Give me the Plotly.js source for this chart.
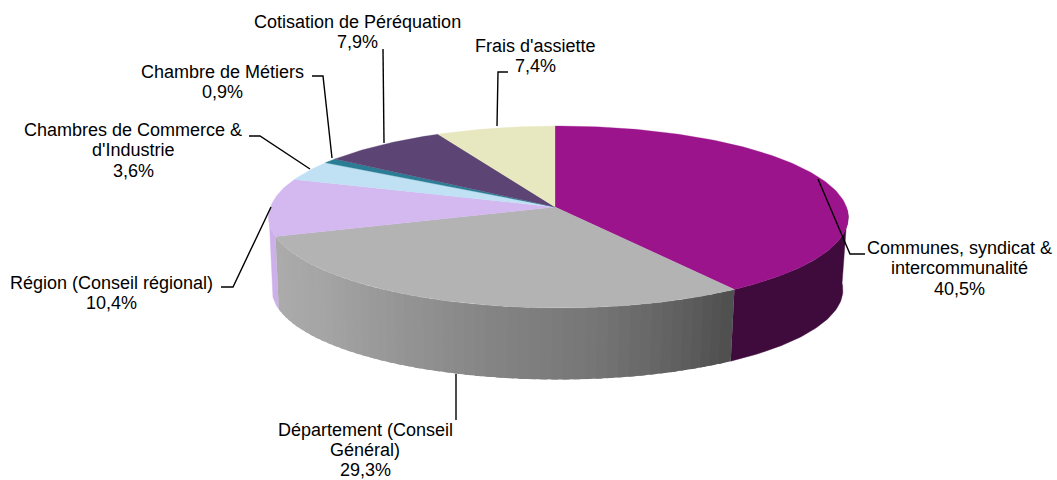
<!DOCTYPE html>
<html>
<head>
<meta charset="utf-8">
<script src="https://cdn.plot.ly/plotly-3.0.1.min.js"></script>
<style>html,body{margin:0;padding:0;background:#fff}#c{width:1057px;height:480px}</style>
</head>
<body>
<div id="c"></div>
<script>
// ---- data ----
const categories = [["Communes, syndicat &","intercommunalité"],["Département (Conseil","Général)"],["Région (Conseil régional)"],["Chambres de Commerce &","d'Industrie"],["Chambre de Métiers"],["Cotisation de Péréquation"],["Frais d'assiette"]];
const shares = [40.5,29.3,10.4,3.6,0.9,7.9,7.4];
const shareLabels = ["40,5%","29,3%","10,4%","3,6%","0,9%","7,9%","7,4%"];

// ---- styles ----
const topColors  = ["#9c148c","#b3b3b3","#d4b8f0","#c0e0f4","#2a7d94","#5c4474","#e8e8c0"];
const wallColors = ["#3f0a3c","#808080","#cdb0ea","#c0e0f4","#2a7d94","#5c4474","#e8e8c0"];
// grey gradient of the side wall, [pixel x, grey level]
const wallGrey = [[272,172],[330,164],[400,150],[500,132],[600,118],[680,98],[738,78]];

// ---- label layout ----
const labelX = [959,365,111,133,222,357,535];
const labelLineY = [[248,268,289],[430,450,470],[283,303],[130,150,171],[72,92],[22,42],[46,66]];
const leaders = [
  [[865,254],[850,254],[818,179]],
  [[456,374],[456,420]],
  [[221,287],[233,287],[271,207]],
  [[249,136],[260,136],[310,169]],
  [[312,76],[323,76],[332,158]],
  [[383,49],[384,143]],
  [[508,72],[498,72],[497,126]]
];

// ---- projection of the tilted disc ----
const cx=555, cy=207, A=288, B=89.9, k=0.11, m=-0.012, wallH=73, wallS=0.985, wallDx=-1;
function topPt(deg){
  const t=deg*Math.PI/180, X=Math.sin(t), Y=Math.cos(t), d=1+k*Y+m*X;
  return [cx+A*X/d, cy-B*Y/d];
}
function botPt(deg){
  const p=topPt(deg);
  return [cx+wallDx+(p[0]-cx)*wallS, cy+wallH+(p[1]-cy)*wallS];
}
function greyAt(x){
  for(let i=1;i<wallGrey.length;i++){
    if(x<=wallGrey[i][0]){
      const a=wallGrey[i-1],b=wallGrey[i],f=Math.max(0,(x-a[0])/(b[0]-a[0]));
      const g=Math.round(a[1]+(b[1]-a[1])*f);
      return `rgb(${g},${g},${g})`;
    }
  }
  const g=wallGrey[wallGrey.length-1][1];
  return `rgb(${g},${g},${g})`;
}
function poly(pts,color,w){
  return {type:'scatter',mode:'lines',x:pts.map(p=>p[0]),y:pts.map(p=>p[1]),fill:'toself',fillcolor:color,
          line:{color:color,width:w},hoverinfo:'skip',showlegend:false};
}

// slice angle bounds from the shares
const total=shares.reduce((a,b)=>a+b,0);
const bounds=[0];
shares.forEach(v=>bounds.push(bounds[bounds.length-1]+v/total*360));

const traces=[];
// side wall: only the near half of the rim shows
const wallFrom=92, wallTo=266, step=2;
function wallPts(a,b){
  const pts=[];
  for(let t=a;t<b;t+=1) pts.push(topPt(t));
  pts.push(topPt(b));
  for(let t=b;t>a;t-=1) pts.push(botPt(t));
  pts.push(botPt(a));
  pts.push(topPt(a));
  return pts;
}
// outer parts first, then the grey slice in overlapping strips
traces.push(poly(wallPts(bounds[2],wallTo),wallColors[2],0.4));
traces.push(poly(wallPts(wallFrom,bounds[1]),wallColors[0],0.4));
for(let hi=bounds[2];hi>bounds[1];hi-=step){
  const lo=Math.max(bounds[1],hi-step);
  const xm=topPt((lo+hi)/2)[0];
  const over=Math.min(bounds[2],hi+step*0.6);
  traces.push(poly(wallPts(lo,over),greyAt(xm),0));
}

// top faces
shares.forEach((v,i)=>{
  const pts=[[cx,cy]];
  for(let a=bounds[i];a<bounds[i+1];a+=1) pts.push(topPt(a));
  pts.push(topPt(bounds[i+1]));
  pts.push([cx,cy]);
  traces.push(poly(pts,topColors[i],0.3));
});

const annotations=[];
categories.forEach((lines,i)=>{
  lines.concat([shareLabels[i]]).forEach((txt,j)=>{
    annotations.push({text:txt,x:labelX[i],y:labelLineY[i][j],xref:'x',yref:'y',
      xanchor:'center',yanchor:'middle',align:'center',showarrow:false,
      font:{family:'"Liberation Sans",Arial,sans-serif',size:18,color:'#000'}});
  });
});
const shapes=leaders.map(l=>({
  type:'path',xref:'x',yref:'y',
  path:l.map((p,i)=>(i?'L':'M')+p[0]+' '+p[1]).join(' '),
  line:{color:'#000',width:1.4}
}));

Plotly.newPlot('c',traces,{
  width:1057,height:480,margin:{l:0,r:0,t:0,b:0},
  paper_bgcolor:'#fff',plot_bgcolor:'#fff',showlegend:false,
  xaxis:{range:[0,1057],visible:false,fixedrange:true},
  yaxis:{range:[480,0],visible:false,fixedrange:true},
  annotations,shapes
},{displayModeBar:false,staticPlot:true});
</script>
</body>
</html>
